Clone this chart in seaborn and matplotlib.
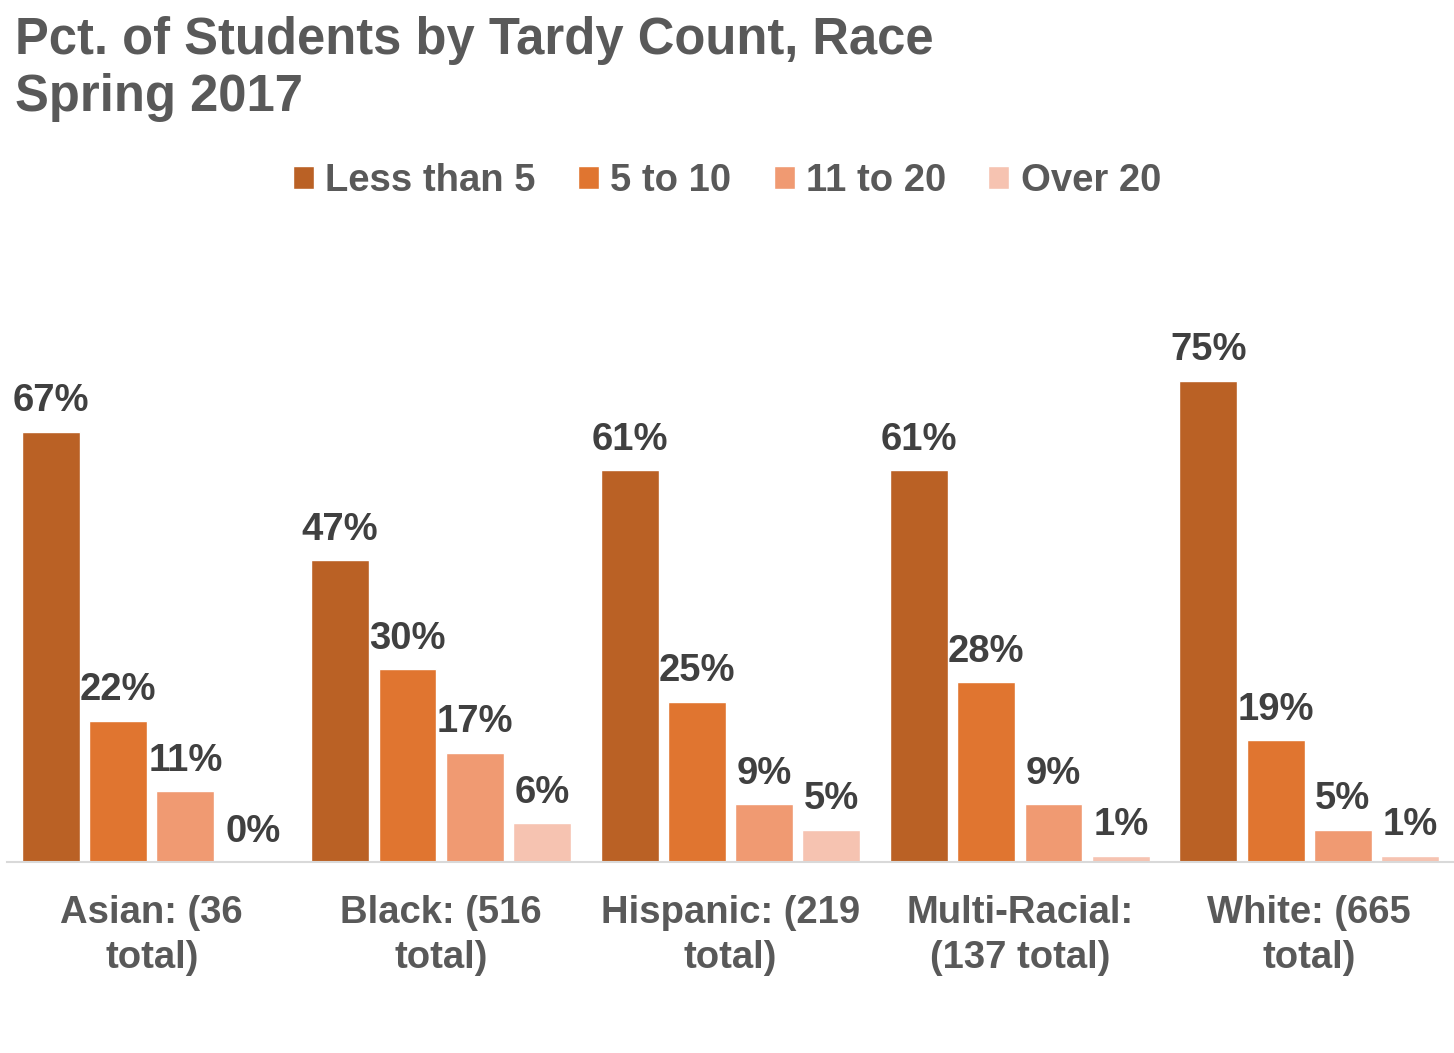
import pandas as pd
import matplotlib.pyplot as plt
import seaborn as sns

# data

races = ["Asian: (36\ntotal)", "Black: (516\ntotal)", "Hispanic: (219\ntotal)",
         "Multi-Racial:\n(137 total)", "White: (665\ntotal)"]
buckets = ["Less than 5", "5 to 10", "11 to 20", "Over 20"]
less_than_5 = [67, 47, 61, 61, 75]
five_to_10 = [22, 30, 25, 28, 19]
eleven_to_20 = [11, 17, 9, 9, 5]
over_20 = [0, 6, 5, 1, 1]
colors = ["#BA6125", "#E07530", "#F09A72", "#F6C3B1"]

df = pd.DataFrame({
    "Race": races * 4,
    "Bucket": sum([[b] * len(races) for b in buckets], []),
    "Pct": less_than_5 + five_to_10 + eleven_to_20 + over_20,
})

sns.set_style("white")
plt.rcParams["font.family"] = ["Liberation Sans", "DejaVu Sans"]
plt.rcParams["font.weight"] = "bold"

fig = plt.figure(figsize=(14.54, 10.53), dpi=100)
ax = fig.add_axes([7 / 1454, 1 - 862 / 1053, 1 - 7 / 1454, (862 - 220) / 1053])

sns.barplot(data=df, x="Race", y="Pct", hue="Bucket", hue_order=buckets,
            palette=colors, width=0.93, gap=0.14, saturation=1, ax=ax)

for cont in ax.containers:
    ax.bar_label(cont, labels=[f"{v:.0f}%" for v in cont.datavalues],
                 padding=9, fontsize=27.5, fontweight="bold", color="#404040")

ax.set_ylim(0, 100)
ax.set_xlim(-0.5, 4.5)
ax.set_xlabel("")
ax.set_ylabel("")
ax.set_yticks([])
ax.tick_params(axis="x", length=0, pad=24, labelsize=27.5, labelcolor="#595959")
for lab in ax.get_xticklabels():
    lab.set_fontweight("bold")
    lab.set_linespacing(1.3)
for s in ["top", "left", "right"]:
    ax.spines[s].set_visible(False)
ax.spines["bottom"].set_color("#D9D9D9")
ax.spines["bottom"].set_linewidth(1.5)

leg = ax.legend(loc="center", bbox_to_anchor=(0.5, 1 - 181 / 1053), bbox_transform=fig.transFigure,
                ncol=4, frameon=False, fontsize=27.5, handlelength=0.55, handleheight=0.55,
                handletextpad=0.3, columnspacing=1.1)
for t in leg.get_texts():
    t.set_color("#595959")
    t.set_fontweight("bold")

fig.text(15 / 1454, 1 - 16 / 1053, "Pct. of Students by Tardy Count, Race\nSpring 2017",
         ha="left", va="top", fontsize=36.5, fontweight="bold", color="#595959", linespacing=1.22)

fig.savefig("out.png", dpi=100)
